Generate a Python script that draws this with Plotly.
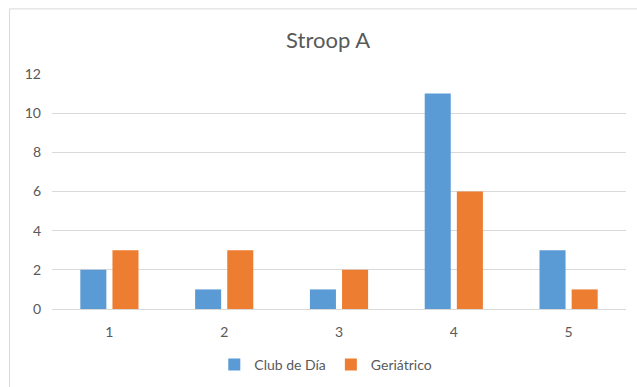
import plotly.graph_objects as go

categories = ["1", "2", "3", "4", "5"]
club_de_dia = [2, 1, 1, 11, 3]
geriatrico = [3, 3, 2, 6, 1]
y_ticks = [0, 2, 4, 6, 8, 10, 12]

FONT = "Lato, Calibri, Carlito, sans-serif"
GREY_TEXT = "#595959"
GRID = "#d9d9d9"

fig = go.Figure()
fig.add_trace(go.Bar(name="Club de Día", x=categories, y=club_de_dia,
                     marker=dict(color="#5B9BD5", line=dict(width=0))))
fig.add_trace(go.Bar(name="Geriátrico", x=categories, y=geriatrico,
                     marker=dict(color="#ED7D31", line=dict(width=0))))

fig.update_layout(
    width=637, height=387,
    margin=dict(l=52, r=11, t=74, b=78, autoexpand=False),
    paper_bgcolor="white", plot_bgcolor="white",
    barmode="group", bargap=0.44, bargroupgap=0.19,
    title=dict(text="Stroop A", x=0.515, xanchor="center",
               yref="container", y=1 - 40 / 387, yanchor="middle",
               font=dict(family=FONT, size=22, color=GREY_TEXT)),
    font=dict(family=FONT, size=13, color=GREY_TEXT),
    legend=dict(orientation="h", x=0.477, xanchor="center",
                yref="container", y=1 - 365 / 387, yanchor="middle",
                font=dict(family=FONT, size=14, color=GREY_TEXT),
                itemwidth=30, tracegroupgap=0),
    showlegend=True,
)
fig.update_xaxes(showgrid=False, showline=True, linecolor=GRID, linewidth=1,
                 ticks="", tickfont=dict(size=14, color=GREY_TEXT), ticklabelstandoff=10)
fig.update_yaxes(range=[0, 12], tickvals=y_ticks, showgrid=True, gridcolor=GRID,
                 gridwidth=1, zeroline=False, showline=False, ticks="",
                 tickfont=dict(size=14, color=GREY_TEXT), ticklabelstandoff=10)

# Outer chart frame
fig.add_shape(type="rect", xref="paper", yref="paper",
              x0=-0.074, x1=1.2, y0=-0.6, y1=1.277,
              line=dict(color=GRID, width=1), fillcolor="rgba(0,0,0,0)", layer="below")

fig.write_html("out.html")
